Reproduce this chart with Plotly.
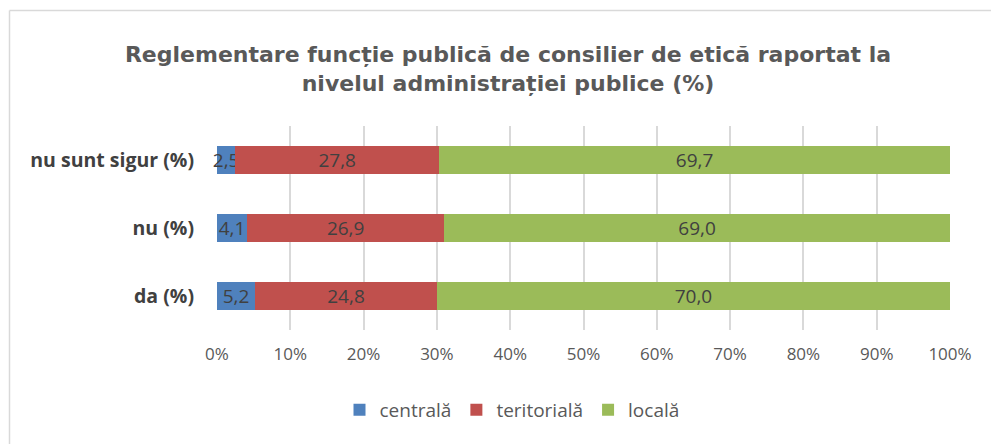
import plotly.graph_objects as go

categories = ["da (%)", "nu (%)", "nu sunt sigur (%)"]
centrala = [5.2, 4.1, 2.5]
teritoriala = [24.8, 26.9, 27.8]
locala = [70.0, 69.0, 69.7]
series_names = ["centrală", "teritorială", "locală"]
colors = ["#4f81bd", "#c0504d", "#9bbb59"]
x_ticks = [0, 10, 20, 30, 40, 50, 60, 70, 80, 90, 100]
x_tick_labels = ["0%", "10%", "20%", "30%", "40%", "50%", "60%", "70%", "80%", "90%", "100%"]

fig = go.Figure()
for name, vals, col in zip(series_names, [centrala, teritoriala, locala], colors):
    fig.add_trace(go.Bar(
        y=categories, x=vals, name=name, orientation="h",
        marker=dict(color=col, line=dict(width=0)),
        texttemplate="%{x:.1f}", textposition="inside", insidetextanchor="middle",
        textangle=0, constraintext="none", cliponaxis=False,
        textfont=dict(family="Open Sans", size=19, color="#404040"),
        hoverinfo="skip",
    ))

W, H = 991, 444
L, R, T, B = 217, 41, 126, 114
pw, ph = W - L - R, H - T - B

def px_x(px):
    return (px - L) / pw

def px_y(py):
    return (H - B - py) / ph

fig.update_layout(
    width=W, height=H,
    margin=dict(l=L, r=R, t=T, b=B),
    barmode="stack", bargap=0.59,
    separators=",.",
    plot_bgcolor="white", paper_bgcolor="white",
    hovermode=False,
    title=dict(
        text="Reglementare funcție publică de consilier de etică raportat la<br>nivelul administrației publice (%)",
        x=508 / W, xref="container", xanchor="center", y=1 - 62 / H, yanchor="middle",
        font=dict(family="DejaVu Sans", size=22, color="#595959", weight="bold"),
    ),
    xaxis=dict(
        range=[0, 100], tickmode="array", tickvals=x_ticks, ticktext=x_tick_labels,
        showgrid=True, gridcolor="#d9d9d9", gridwidth=1.5,
        zeroline=False, showline=False,
        tickfont=dict(family="Open Sans", size=17, color="#595959"),
        ticklabelstandoff=12,
    ),
    yaxis=dict(
        showgrid=False, zeroline=False, showline=False, ticks="",
        tickfont=dict(family="Open Sans", size=19.5, color="#404040", weight="bold"),
        ticklabelstandoff=22,
    ),
    legend=dict(
        orientation="h", traceorder="normal",
        x=px_x(512), xanchor="center",
        y=px_y(410), yanchor="middle",
        font=dict(family="Open Sans", size=19, color="#595959"),
        itemwidth=30,
    ),
    showlegend=True,
    shapes=[
        dict(type="line", xref="paper", yref="paper", x0=px_x(9.5), x1=px_x(1000),
             y0=px_y(10.5), y1=px_y(10.5), line=dict(color="#d9d9d9", width=1.5)),
        dict(type="line", xref="paper", yref="paper", x0=px_x(9.5), x1=px_x(9.5),
             y0=px_y(10.5), y1=px_y(460), line=dict(color="#d9d9d9", width=1.5)),
    ],
)
fig.write_html("out.html", config={"displayModeBar": False},
               post_script="document.body.style.margin='0';document.body.style.overflow='hidden';")
